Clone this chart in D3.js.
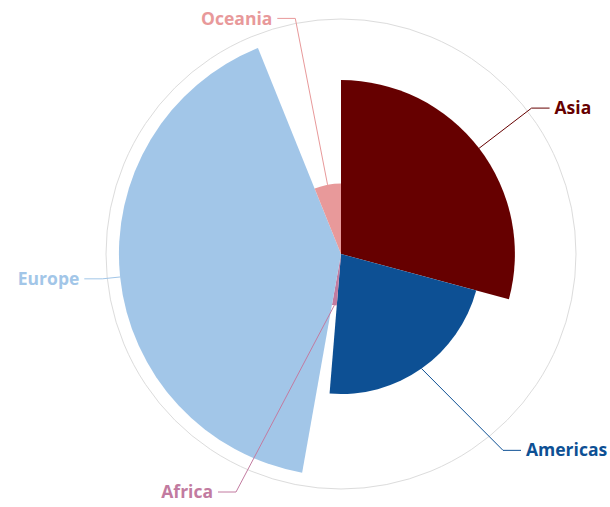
<!DOCTYPE html>
<html>
<head>
<meta charset="utf-8">
<script src="https://cdn.jsdelivr.net/npm/d3@7"></script>
<style>
  body { margin: 0; background: #fff; }
  text { font-family: "Open Sans", sans-serif; font-weight: bold; }
</style>
</head>
<body>
<script>
const regions = ["Asia", "Americas", "Africa", "Europe", "Oceania"];
const shares = [29.2, 22.1, 1.5, 41.1, 6.1];      // slice angle
const reach = [74, 59.6, 22, 94.5, 30];           // slice radius
const colors = ["#660000", "#0d5094", "#c27ba0", "#a2c6e8", "#e8999a"];

const width = 610;
const height = 507;
const cx = 341;
const cy = 254;
const labelRadius = 240;
// a few labels were pushed sideways in the original
const labelShift = { Americas: 162, Africa: -105 };

const data = regions.map((name, i) => ({
  name: name,
  share: shares[i],
  reach: reach[i],
  color: colors[i]
}));

let r = d3.scaleLinear().domain([0, 100]).range([0, 235]);

let pie = d3.pie().sort(null).value(d => d.share);
let arcs = pie(data);

let svg = d3
  .select("body")
  .append("svg")
  .attr("width", width)
  .attr("height", height);

let g = svg.append("g").attr("transform", `translate(${cx}, ${cy})`);

// outer guide circle
g.append("circle")
  .attr("r", r(100))
  .attr("fill", "none")
  .attr("stroke", "#dcdcdc")
  .attr("stroke-width", 1);

let arc = d3
  .arc()
  .innerRadius(0)
  .outerRadius(d => r(d.data.reach));

g.selectAll("path.slice")
  .data(arcs)
  .enter()
  .append("path")
  .attr("class", "slice")
  .attr("d", arc)
  .attr("fill", d => d.data.color);

// labels with connectors
let labels = g.selectAll("g.label")
  .data(arcs)
  .enter()
  .append("g")
  .attr("class", "label");

labels.each(function(d) {
  let mid = (d.startAngle + d.endAngle) / 2;
  let left = mid > Math.PI;
  let sx = Math.sin(mid) * r(d.data.reach);
  let sy = -Math.cos(mid) * r(d.data.reach);
  let ey = -Math.cos(mid) * labelRadius;
  let ex = labelShift[d.data.name] !== undefined
    ? labelShift[d.data.name]
    : Math.sin(mid) * labelRadius;
  let hx = ex + (left ? -18 : 18);

  d3.select(this)
    .append("polyline")
    .attr("points", `${sx},${sy} ${ex},${ey} ${hx},${ey}`)
    .attr("fill", "none")
    .attr("stroke", d.data.color)
    .attr("stroke-width", 1);

  d3.select(this)
    .append("text")
    .attr("x", hx + (left ? -5 : 5))
    .attr("y", ey)
    .attr("dy", "0.35em")
    .attr("text-anchor", left ? "end" : "start")
    .attr("font-size", 17.5)
    .attr("fill", d.data.color)
    .text(d.data.name);
});
</script>
</body>
</html>
